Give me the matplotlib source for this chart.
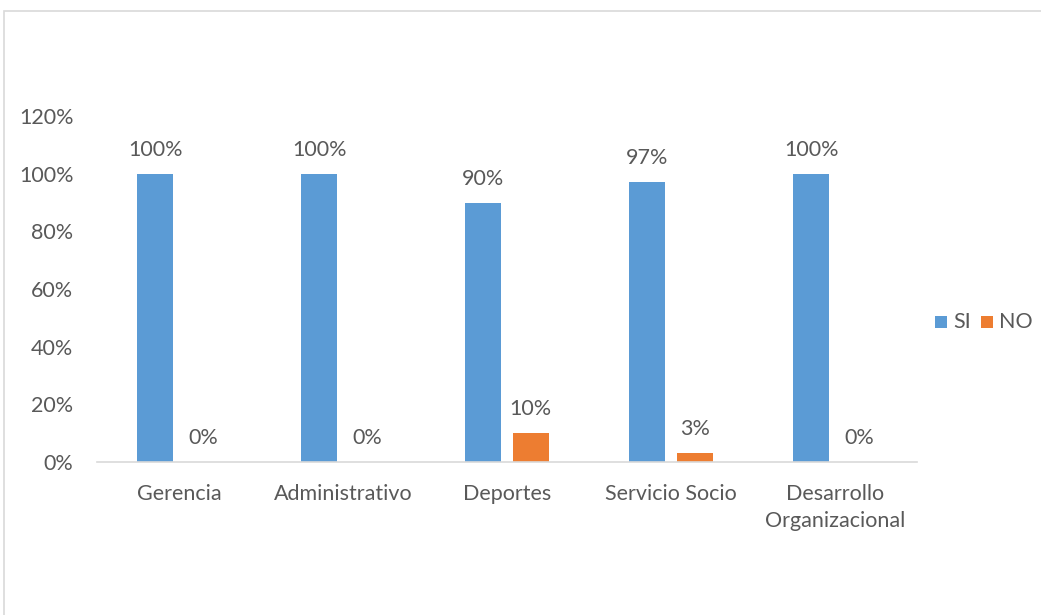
import matplotlib
matplotlib.use("Agg")
import matplotlib.pyplot as plt
import numpy as np
from matplotlib.patches import Rectangle

categories = ["Gerencia", "Administrativo", "Deportes", "Servicio Socio", "Desarrollo\nOrganizacional"]
si_values = [100, 100, 90, 97, 100]
no_values = [0, 0, 10, 3, 0]
series_names = ["SI", "NO"]
y_ticks = [0, 20, 40, 60, 80, 100, 120]

plt.rcParams["font.family"] = ["Lato", "DejaVu Sans"]
text_color = "#595959"
blue = "#5B9BD5"
orange = "#ED7D31"
fs = 15.5

W, H = 1041, 615
fig = plt.figure(figsize=(W / 100, H / 100), dpi=100)

# outer chart frame
fig.add_artist(Rectangle((4 / W, -0.01), 1.1, 1 - 11 / H + 0.01, transform=fig.transFigure,
                         fill=False, edgecolor="#D9D9D9", linewidth=1.2))

ax = fig.add_axes([97 / W, 1 - 462 / H, (917 - 97) / W, (462 - 116) / H])
x = np.arange(len(categories))
width = 0.22
off = 0.145
b1 = ax.bar(x - off, si_values, width, color=blue, label=series_names[0])
b2 = ax.bar(x + off, no_values, width, color=orange, label=series_names[1])

for bars, vals in ((b1, si_values), (b2, no_values)):
    for rect, v in zip(bars, vals):
        ax.annotate(f"{v}%", (rect.get_x() + rect.get_width() / 2, v),
                    xytext=(0, 10), textcoords="offset points",
                    ha="center", va="bottom", fontsize=fs, color=text_color)

ax.set_xlim(-0.5, len(categories) - 0.5)
ax.set_ylim(0, 120)
ax.set_yticks(y_ticks)
ax.set_yticklabels([f"{t}%" for t in y_ticks])
ax.set_xticks(x)
ax.set_xticklabels(categories, linespacing=1.4)
ax.tick_params(axis="both", length=0, labelsize=fs, colors=text_color)
ax.tick_params(axis="x", pad=16)
ax.tick_params(axis="y", pad=17)
for s in ("top", "right", "left"):
    ax.spines[s].set_visible(False)
ax.spines["bottom"].set_color("#D9D9D9")
ax.spines["bottom"].set_linewidth(1.2)

# compact legend at the right: colour key square followed by series name
legend_y = 322
for (name, color), key_x in zip(zip(series_names, [blue, orange]), [935, 981]):
    sq = 12
    fig.add_artist(Rectangle((key_x / W, 1 - (legend_y + sq / 2) / H), sq / W, sq / H,
                             transform=fig.transFigure, facecolor=color, edgecolor="none"))
    fig.text((key_x + sq + 6) / W, 1 - legend_y / H, name, fontsize=fs,
             color=text_color, ha="left", va="center")

fig.savefig("out.png", dpi=100)
